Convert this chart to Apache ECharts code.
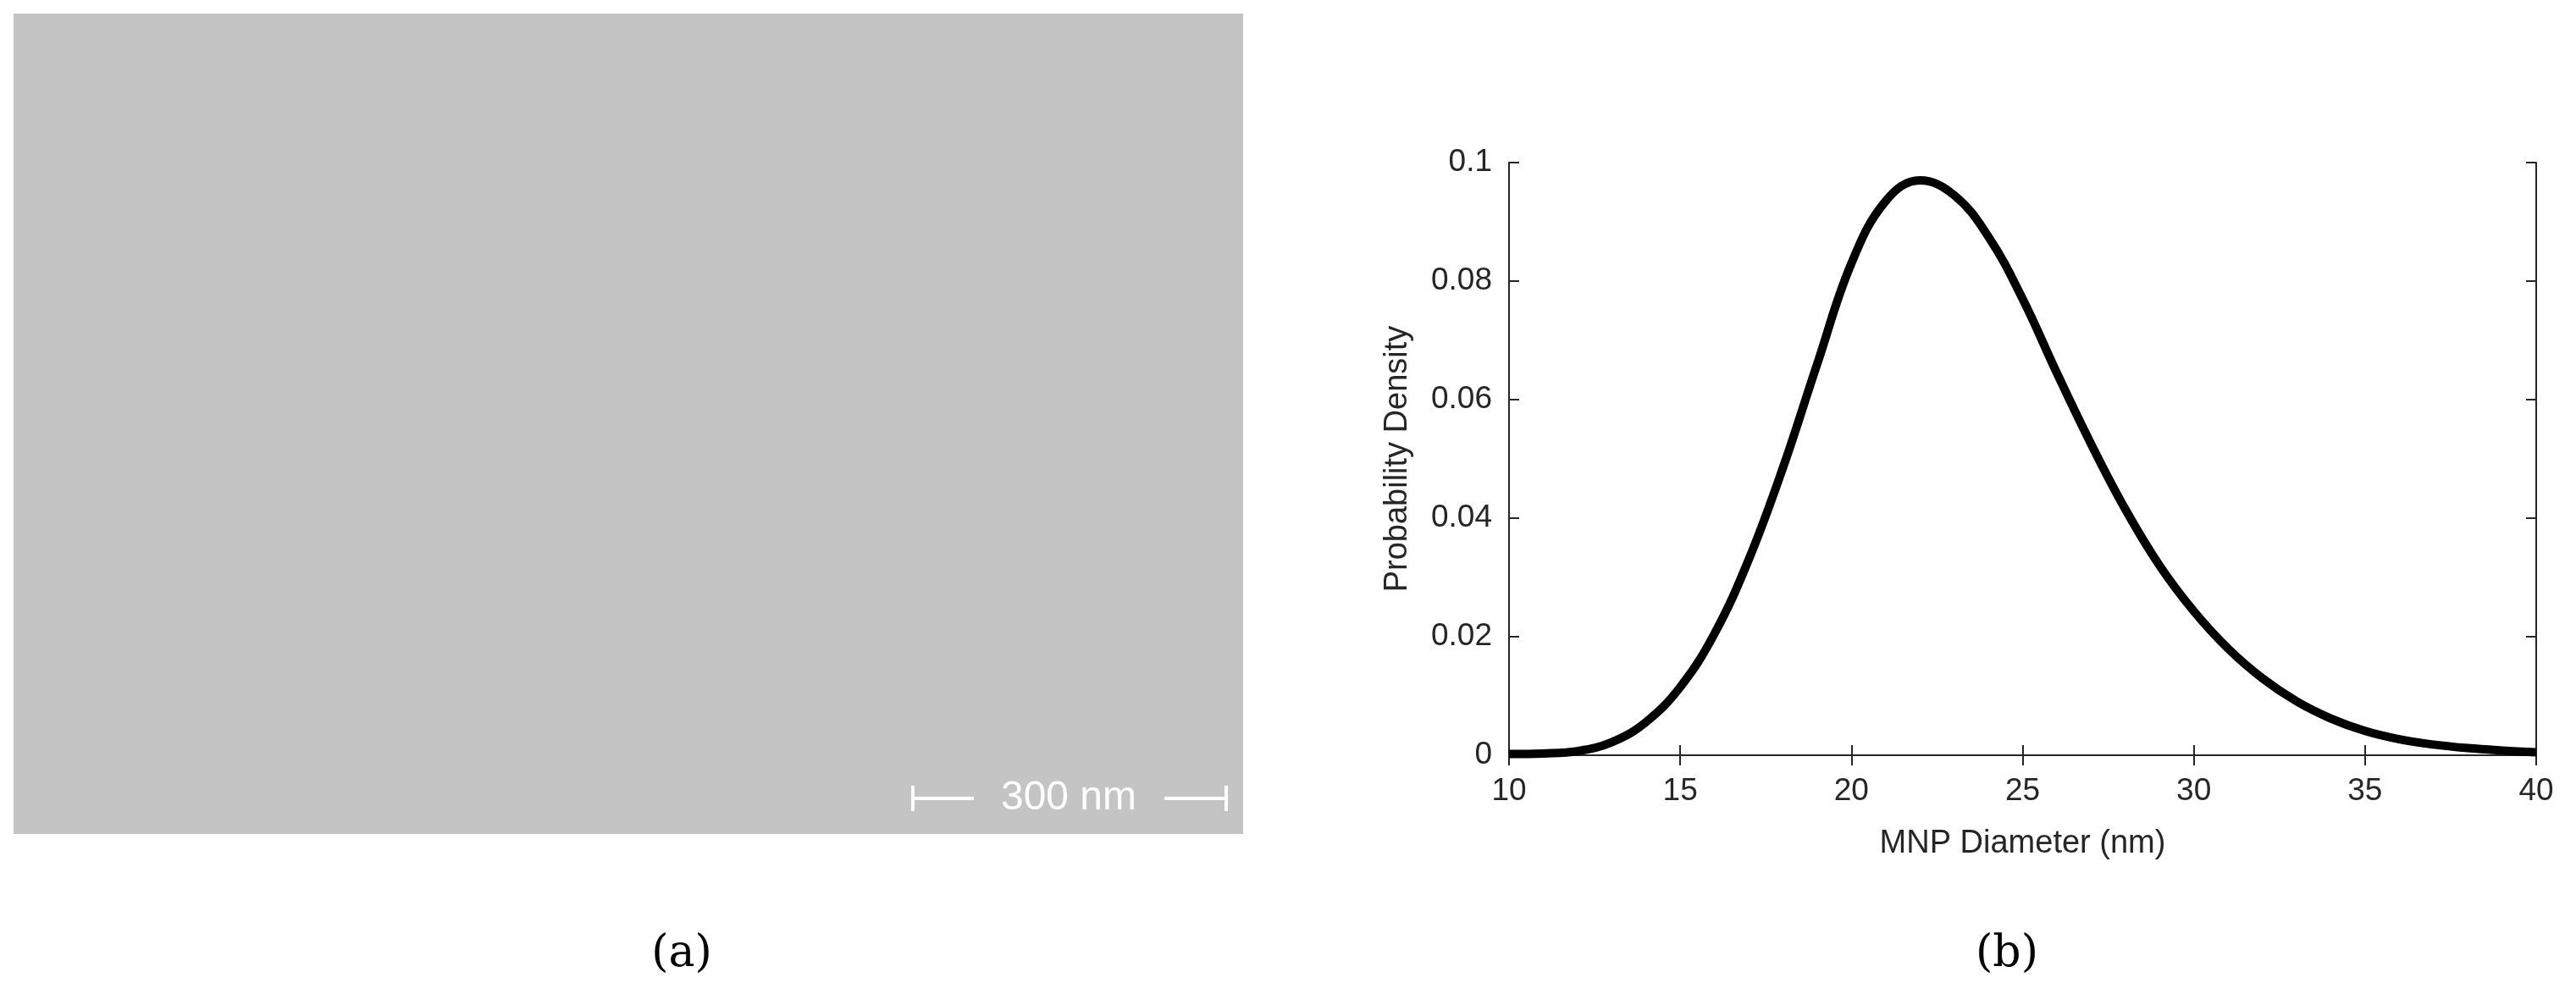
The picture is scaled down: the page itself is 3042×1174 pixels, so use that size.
<!DOCTYPE html><html><head><meta charset="utf-8"><script src="https://cdn.jsdelivr.net/npm/echarts@6/dist/echarts.min.js"></script>
<style>html,body{margin:0;background:#fff}#c{width:3042px;height:1174px}</style></head><body><div id="c"></div><script>
const diameters=[10,11,12,13,14,15,16,17,18,19,20,21,22,23,24,25,26,27,28,29,30,31,32,33,34,35,36,37,38,39,40];
const density=[0.0002,0.0003,0.0007,0.0022,0.0056,0.0115,0.0205,0.0330,0.0485,0.0660,0.0830,0.0935,0.0970,0.0945,0.0875,0.0770,0.0645,0.0525,0.0415,0.0320,0.0243,0.0180,0.0130,0.0091,0.0062,0.0041,0.0027,0.0018,0.0012,0.0008,0.0005];
const xTicks=[10,15,20,25,30,35,40];
const yTicks=[0,0.02,0.04,0.06,0.08,0.1];
const ch=echarts.init(document.getElementById('c'));
const F='Liberation Sans';
const lab={color:'#262626',fontSize:37,fontFamily:F};
ch.setOption({
 animation:false,
 grid:{left:1782,top:192,width:1213,height:700},
 graphic:[
  {type:'rect',shape:{x:16,y:16,width:1452,height:969},style:{fill:'#c4c4c4'}},
  {type:'line',shape:{x1:1078,y1:943,x2:1150,y2:943},style:{stroke:'#fff',lineWidth:4}},
  {type:'line',shape:{x1:1078,y1:928,x2:1078,y2:958},style:{stroke:'#fff',lineWidth:4}},
  {type:'line',shape:{x1:1375,y1:943,x2:1448,y2:943},style:{stroke:'#fff',lineWidth:4}},
  {type:'line',shape:{x1:1448,y1:928,x2:1448,y2:958},style:{stroke:'#fff',lineWidth:4}},
  {type:'text',x:1262,y:943,style:{text:'300 nm',fill:'#fff',font:'48px '+F,align:'center',verticalAlign:'middle'}},
  {type:'text',x:805,y:1127,style:{text:'(a)',fill:'#000',font:'52px "DejaVu Serif"',align:'center',verticalAlign:'middle'}},
  {type:'text',x:2370,y:1127,style:{text:'(b)',fill:'#000',font:'52px "DejaVu Serif"',align:'center',verticalAlign:'middle'}}
 ],
 xAxis:[{type:'value',min:10,max:40,interval:5,name:'MNP Diameter (nm)',nameLocation:'middle',nameGap:86,
   nameTextStyle:{color:'#262626',fontSize:38,fontFamily:F},
   axisLine:{lineStyle:{color:'#262626',width:2}},axisTick:{inside:true,length:12,lineStyle:{color:'#262626',width:2}},
   axisLabel:Object.assign({margin:24},lab),splitLine:{show:false}},
  {type:'value',position:'top',min:10,max:40,interval:5,axisLine:{lineStyle:{color:'#262626',width:2}},
   axisTick:{inside:true,length:12,lineStyle:{color:'#262626',width:2}},axisLabel:{show:false},splitLine:{show:false}}],
 yAxis:[{type:'value',min:0,max:0.1,interval:0.02,name:'Probability Density',nameLocation:'middle',nameGap:112,
   nameTextStyle:{color:'#262626',fontSize:38,fontFamily:F},
   axisLine:{show:true,lineStyle:{color:'#262626',width:2}},axisTick:{show:true,inside:true,length:12,lineStyle:{color:'#262626',width:2}},
   axisLabel:Object.assign({margin:20,formatter:v=>String(+v.toFixed(2))},lab),splitLine:{show:false}},
  {type:'value',position:'right',min:0,max:0.1,interval:0.02,axisLine:{show:true,lineStyle:{color:'#262626',width:2}},
   axisTick:{show:true,inside:true,length:12,lineStyle:{color:'#262626',width:2}},axisLabel:{show:false},splitLine:{show:false}}],
 series:[{type:'line',data:diameters.map((d,i)=>[d,density[i]]),smooth:0.4,showSymbol:false,
   lineStyle:{color:'#000',width:10},clip:false}]
});
</script></body></html>
